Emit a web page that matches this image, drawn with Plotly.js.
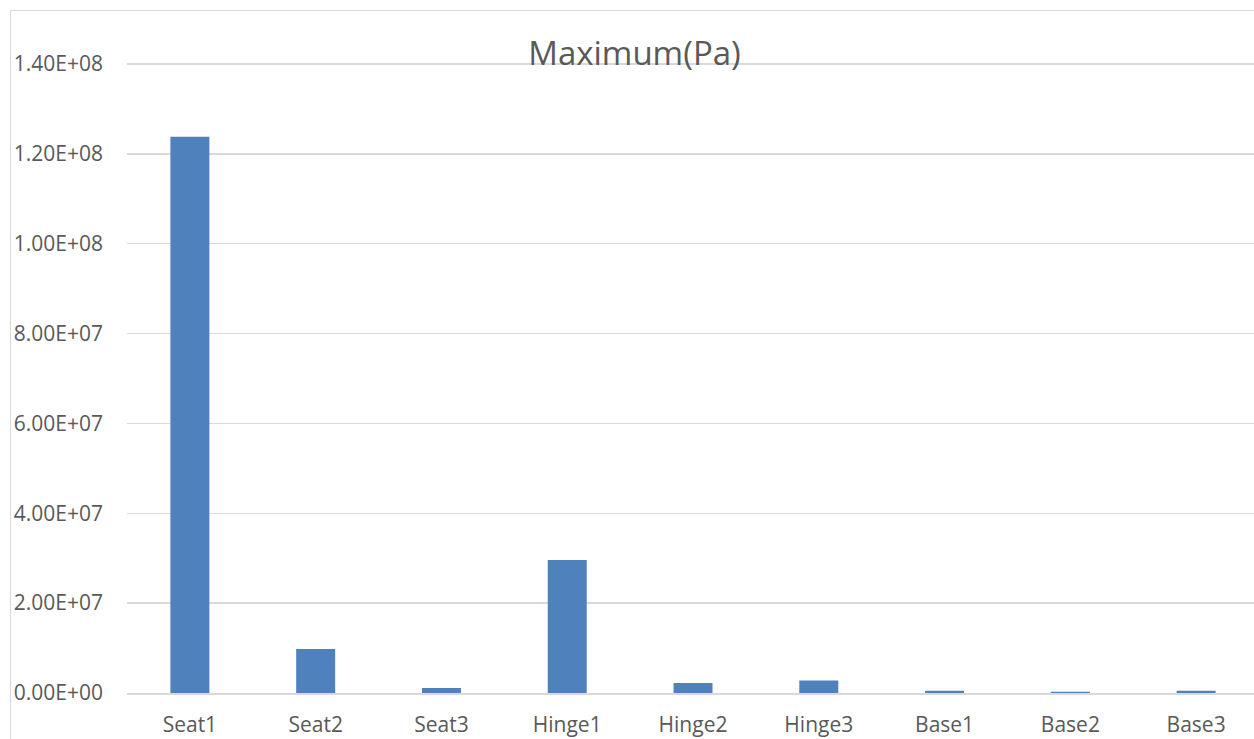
<!DOCTYPE html>
<html>
<head>
<meta charset="utf-8">
<script src="https://cdn.plot.ly/plotly-3.0.1.min.js"></script>
<style>
html,body{margin:0;padding:0;background:#fff;}
#wrap{position:relative;width:1254px;height:739px;}
#chart{position:absolute;left:0;top:0;width:1254px;height:739px;}
#frame{position:absolute;left:10px;top:10px;width:1260px;height:740px;border-left:1px solid #d9d9d9;border-top:1px solid #d9d9d9;pointer-events:none;}
</style>
</head>
<body>
<div id="wrap"><div id="chart"></div><div id="frame"></div></div>
<script>
const categories = ["Seat1","Seat2","Seat3","Hinge1","Hinge2","Hinge3","Base1","Base2","Base3"];
const maximumPa = [1.238e8, 9.8e6, 1.1e6, 2.96e7, 2.2e6, 2.8e6, 5.0e5, 3.0e5, 5.0e5];
const yTickVals = [0, 2e7, 4e7, 6e7, 8e7, 1e8, 1.2e8, 1.4e8];
const yTickText = ["0.00E+00","2.00E+07","4.00E+07","6.00E+07","8.00E+07","1.00E+08","1.20E+08","1.40E+08"];
const chartTitle = "Maximum(Pa)";

const font = "'Open Sans', 'Noto Sans', sans-serif";
const trace = {
  type: 'bar',
  x: categories,
  y: maximumPa,
  marker: {color: '#4f81bd', line: {width: 0}},
  hoverinfo: 'x+y'
};
const plotTop = 60, plotBottom = 46, H = 739;
const yMax = 1.4e8 * (H - plotTop - plotBottom) / (693 - 64);
const layout = {
  width: 1254, height: 739,
  margin: {l: 127, r: 0, t: plotTop, b: plotBottom, pad: 0},
  paper_bgcolor: '#ffffff', plot_bgcolor: '#ffffff',
  bargap: 0.69,
  showlegend: false,
  title: {text: chartTitle, font: {family: font, size: 33, color: '#595959'}, x: 0.506, xanchor: 'center', y: 1 - 53/739, yanchor: 'middle', yref: 'container'},
  xaxis: {
    type: 'category', range: [-0.5, 8.46],
    tickfont: {family: font, size: 21, color: '#595959'},
    showgrid: false, zeroline: false,
    showline: true, linecolor: '#d9d9d9', linewidth: 2,
    ticks: '', ticklabelstandoff: 12
  },
  yaxis: {
    range: [0, yMax],
    tickvals: yTickVals, ticktext: yTickText,
    tickfont: {family: font, size: 21, color: '#595959'},
    showgrid: true, gridcolor: '#d9d9d9', gridwidth: 1.5,
    zeroline: false, showline: false, ticks: '', ticklabelstandoff: 23
  }
};
Plotly.newPlot('chart', [trace], layout, {displayModeBar: false, staticPlot: true});
</script>
</body>
</html>
